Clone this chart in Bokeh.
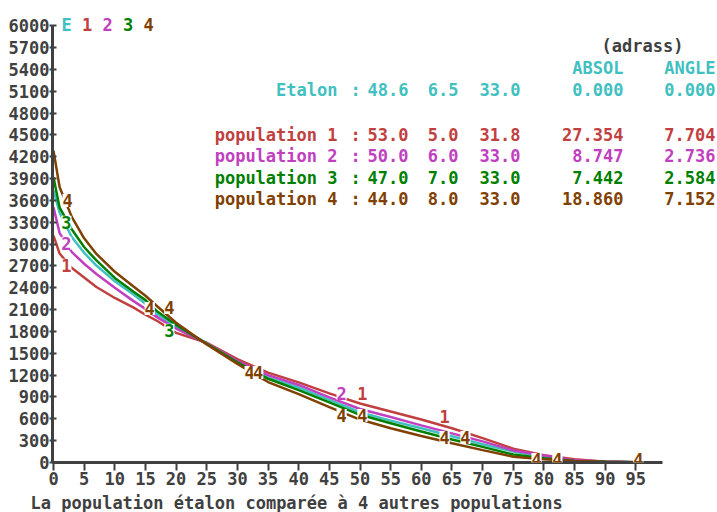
from bokeh.plotting import figure
from bokeh.models import Label, FixedTicker, Range1d, Title
from bokeh.embed import file_html
from bokeh.resources import INLINE

# ---------------- data ----------------
ages = [0, 1, 3, 5, 7, 10, 13, 15, 17, 20, 25, 30, 35, 40, 45, 50, 55, 60, 65, 70, 75, 80, 85, 90, 95]
etalon = [3735, 3430, 3094, 2880, 2705, 2490, 2310, 2180, 2030, 1870, 1640, 1400, 1170, 1030, 860, 690, 575, 470, 360, 250, 150, 80, 28, 12, 5]
pop1 = [3117, 2870, 2670, 2540, 2410, 2260, 2130, 2030, 1940, 1780, 1645, 1420, 1235, 1100, 950, 810, 700, 590, 470, 335, 190, 100, 45, 12, 5]
pop2 = [3506, 3150, 2890, 2730, 2590, 2400, 2220, 2110, 1990, 1840, 1635, 1395, 1200, 1065, 895, 735, 625, 510, 400, 290, 165, 95, 30, 14, 5]
pop3 = [3917, 3500, 3200, 2960, 2775, 2535, 2350, 2230, 2070, 1890, 1630, 1375, 1150, 995, 825, 655, 540, 425, 315, 215, 110, 60, 22, 10, 5]
ages4 = [0, 1, 3, 5, 7, 10, 13, 15, 17, 20, 25, 30, 35, 40, 45, 50, 55, 60, 65, 70, 75, 80, 85, 90, 95, 98]
pop4 = [4284, 3780, 3370, 3080, 2865, 2620, 2420, 2290, 2140, 1920, 1620, 1355, 1105, 940, 760, 590, 470, 365, 265, 170, 80, 45, 20, 10, 5, 0]

series_names = ["E", "1", "2", "3", "4"]
row_names = ["Etalon", "population 1", "population 2", "population 3", "population 4"]
param_a = [48.6, 53.0, 50.0, 47.0, 44.0]
param_b = [6.5, 5.0, 6.0, 7.0, 8.0]
param_c = [33.0, 31.8, 33.0, 33.0, 33.0]
absol = [0.000, 27.354, 8.747, 7.442, 18.860]
angle = [0.000, 7.704, 2.736, 2.584, 7.152]

curve_lab_txt = ["4", "3", "2", "1", "4", "4", "3", "4", "4", "2", "1", "4", "4", "1", "4", "4", "4", "4", "4"]
curve_lab_x = [2.3, 2.1, 2.1, 2.1, 15.7, 18.9, 18.9, 32.0, 33.4, 47.0, 50.4, 47.0, 50.4, 63.8, 63.8, 67.2, 78.8, 82.2, 95.4]
curve_lab_y = [3600, 3300, 3010, 2710, 2115, 2130, 1815, 1235, 1235, 950, 950, 645, 645, 630, 345, 345, 40, 40, 40]

x_ticks = list(range(0, 100, 5))
y_ticks = list(range(0, 6001, 300))

title_text = "La population étalon comparée à 4 autres populations"

# ---------------- style ----------------
C_E = "#40C0C0"
C_1 = "#C04040"
C_2 = "#C040C0"
C_3 = "#008000"
C_4 = "#804000"
GRAY = "#404040"
colors = [C_E, C_1, C_2, C_3, C_4]
color_of = {"E": C_E, "1": C_1, "2": C_2, "3": C_3, "4": C_4}
FONT = "DejaVu Sans Mono"
FS = "17px"

PX_PER_X = 6.13          # pixels per year
PX_PER_Y = 438 / 6016.0  # pixels per person
L, T = 52, 10            # frame left / top
B = 462                  # frame bottom (x axis)
FW = 717 - L
FH = B - T
X0 = -1 / PX_PER_X
X1 = X0 + FW / PX_PER_X
Y1 = FH / PX_PER_Y


def dx(px):
    return X0 + (px - L) / PX_PER_X


def dy(py):
    return (B - py) / PX_PER_Y


p = figure(frame_width=FW, frame_height=FH,
           min_border_left=L, min_border_right=0,
           min_border_top=T, min_border_bottom=512 - B,
           x_range=Range1d(X0, X1), y_range=Range1d(0, Y1),
           output_backend="svg", toolbar_location=None)
p.grid.visible = False
p.outline_line_color = None
p.background_fill_color = "white"
p.border_fill_color = "white"

for ax in (p.xaxis[0], p.yaxis[0]):
    ax.axis_line_color = GRAY
    ax.axis_line_width = 3
    ax.major_tick_line_color = GRAY
    ax.major_tick_line_width = 2
    ax.minor_tick_line_color = None
    ax.major_label_text_font = FONT
    ax.major_label_text_font_style = "bold"
    ax.major_label_text_font_size = FS
    ax.major_label_text_color = GRAY
p.xaxis.ticker = FixedTicker(ticks=x_ticks)
p.yaxis.ticker = FixedTicker(ticks=y_ticks)
p.xaxis.bounds = (X0, 99.35)
p.yaxis.bounds = (0, 6000)
p.xaxis.major_tick_out = 8
p.xaxis.major_tick_in = 0
p.xaxis.major_label_standoff = 1
p.yaxis.major_tick_out = 3
p.yaxis.major_tick_in = 4
p.yaxis.major_label_standoff = 0

# curves
p.line(ages, etalon, line_color=C_E, line_width=2.5)
p.line(ages, pop1, line_color=C_1, line_width=2.5)
p.line(ages, pop2, line_color=C_2, line_width=2.5)
p.line(ages, pop3, line_color=C_3, line_width=2.5)
p.line(ages4, pop4, line_color=C_4, line_width=2.5)


def lab(x, y, text, color, align="left", bg=None):
    kw = {}
    if bg:
        kw = dict(background_fill_color=bg, background_fill_alpha=1.0)
    p.add_layout(Label(x=x, y=y, text=text, text_color=color, text_font=FONT,
                       text_font_style="bold", text_font_size=FS,
                       text_align=align, text_baseline="middle", **kw))


# curve labels
for t, x, y in zip(curve_lab_txt, curve_lab_x, curve_lab_y):
    lab(x, y, t, color_of[t], align="center", bg="white")

# top-left legend
for i, (nm, c) in enumerate(zip(series_names, colors)):
    lab(dx(66 + 20.5 * i), dy(24), nm, c, align="center")

# table
lab(dx(683), dy(45), "(adrass)", GRAY, align="right")
lab(dx(623), dy(67), "ABSOL", C_E, align="right")
lab(dx(715), dy(67), "ANGLE", C_E, align="right")
row_y = [89, 134, 155, 177, 198]
for i in range(5):
    c = colors[i]
    yy = dy(row_y[i])
    lab(dx(337), yy, row_names[i], c, align="right")
    lab(dx(355), yy, ":", c, align="center")
    lab(dx(408), yy, f"{param_a[i]:.1f}", c, align="right")
    lab(dx(458), yy, f"{param_b[i]:.1f}", c, align="right")
    lab(dx(520), yy, f"{param_c[i]:.1f}", c, align="right")
    lab(dx(623), yy, f"{absol[i]:.3f}", c, align="right")
    lab(dx(715), yy, f"{angle[i]:.3f}", c, align="right")

# caption below the axis
p.add_layout(Title(text=title_text, align="left", offset=-22, standoff=6,
                   text_font=FONT, text_font_style="bold", text_font_size=FS,
                   text_color=GRAY), "below")

open("out.html", "w").write(file_html(p, INLINE))
